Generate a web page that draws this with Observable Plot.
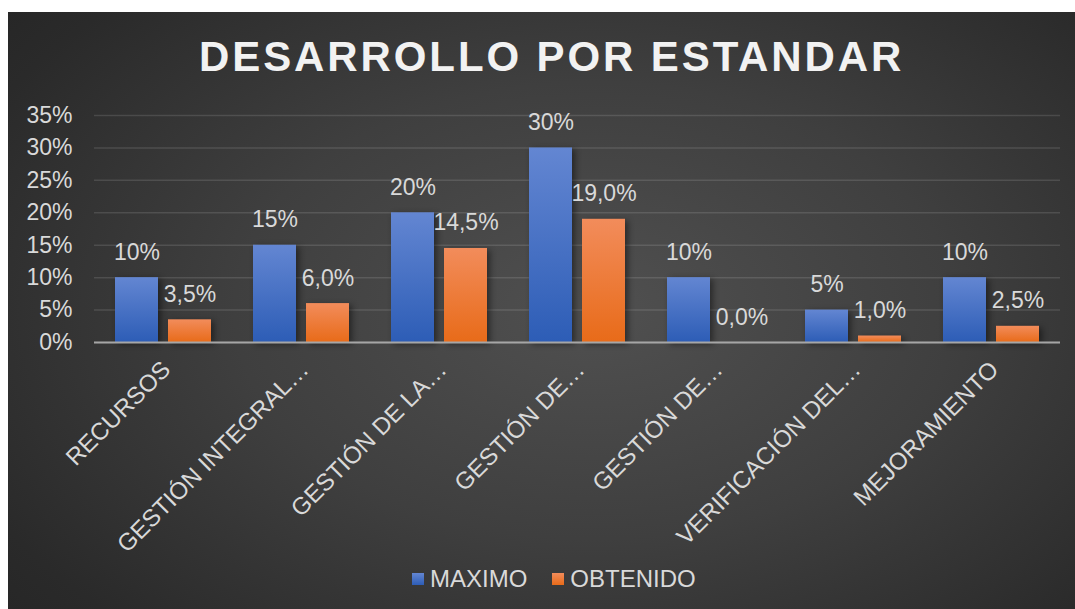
<!DOCTYPE html>
<html><head><meta charset="utf-8">
<script src="https://cdn.jsdelivr.net/npm/d3@7"></script>
<script src="https://cdn.jsdelivr.net/npm/@observablehq/plot@0.6"></script>
<style>
body{margin:0;background:#fff;}
#chart{position:absolute;left:8px;top:12px;width:1067px;height:597px;overflow:hidden;
  background:radial-gradient(ellipse 75% 85% at 55% 50%, #505050 0%, #3f3f3f 45%, #2a2a2a 85%, #252525 100%);
  font-family:"Liberation Sans",Arial,sans-serif;}
#title{position:absolute;left:191px;top:24px;font-weight:bold;font-size:42px;line-height:42px;letter-spacing:2.9px;color:#f2f2f2;white-space:nowrap}
#plot{position:absolute;left:0;top:88px}
#legend{position:absolute;left:404px;top:555px;display:flex;align-items:center;font-size:24px;line-height:24px;color:#d9d9d9;white-space:nowrap}
#legend .sw{width:12px;height:12px;display:inline-block;margin-right:6px}
#legend .item{display:flex;align-items:center;margin-right:25px}
</style></head>
<body>
<div id="chart">
  <div id="title">DESARROLLO POR ESTANDAR</div>
  <div id="plot"></div>
  <div id="legend"></div>
</div>
<script>
const categories = ["RECURSOS","GESTIÓN INTEGRAL…","GESTIÓN DE LA…","GESTIÓN DE…","GESTIÓN DE…","VERIFICACIÓN DEL…","MEJORAMIENTO"];
const series = ["MAXIMO","OBTENIDO"];
const maximo = [0.10,0.15,0.20,0.30,0.10,0.05,0.10];
const obtenido = [0.035,0.06,0.145,0.19,0.0,0.01,0.025];
const yTicks = [0,0.05,0.10,0.15,0.20,0.25,0.30,0.35];
const seriesColors = [["#6386d2","#2d5db6"],["#f28c5b","#e86b19"]];

const rows = [];
categories.forEach((c,i)=>{
  rows.push({i, series:series[0], value:maximo[i]});
  rows.push({i, series:series[1], value:obtenido[i]});
});
const pct = v => Math.round(v*100) + "%";
const fmtLabel = d => d.series === "MAXIMO" ? pct(d.value) : (d.value*100).toFixed(1).replace(".", ",") + "%";

const txt = "#d9d9d9";
const plot = Plot.plot({
  width:1067, height:460,
  marginTop:15, marginBottom:218, marginLeft:86, marginRight:15,
  style:{fontSize:"23px", fontFamily:"'Liberation Sans', Arial, sans-serif", color:txt, background:"transparent", overflow:"visible"},
  fx:{domain:d3.range(categories.length), padding:0, label:null, axis:null},
  x:{domain:series, paddingInner:0.189, paddingOuter:0.396, axis:null},
  y:{domain:[0,0.35], label:null, axis:null},
  color:{domain:series, range:["url(#gBlue)","url(#gOrange)"]},
  marks:[
    Plot.gridY(yTicks, {stroke:"#ffffff", strokeOpacity:0.12, strokeWidth:1.5}),
    Plot.axisY(yTicks, {tickSize:0, tickPadding:22, tickFormat:pct, fill:txt, label:null, fontSize:23}),
    Plot.barY(rows, {fx:"i", x:"series", y:"value", fill:"series"}),
    Plot.ruleY([0], {stroke:"#a6a6a6", strokeWidth:2}),
    Plot.text(rows, {fx:"i", x:"series", y:"value", text:fmtLabel, dy:-18, lineAnchor:"bottom", fill:txt, fontSize:23}),
    Plot.axisFx({anchor:"bottom", tickRotate:-45, tickSize:0, tickPadding:23, dx:3, tickFormat:i=>categories[i], fill:txt, label:null, fontSize:24})
  ]
});
const svg = d3.select(plot);
const defs = svg.insert("defs", ":first-child");
[["gBlue",seriesColors[0]],["gOrange",seriesColors[1]]].forEach(([id,c])=>{
  const g = defs.append("linearGradient").attr("id",id).attr("x1",0).attr("y1",0).attr("x2",0).attr("y2",1);
  g.append("stop").attr("offset","0%").attr("stop-color",c[0]);
  g.append("stop").attr("offset","100%").attr("stop-color",c[1]);
});
svg.selectAll("g[aria-label='bar'] rect").style("filter","drop-shadow(3px 2px 3px rgba(0,0,0,0.45))");
document.getElementById("plot").appendChild(plot);

const legend = d3.select("#legend");
series.forEach((s,k)=>{
  const it = legend.append("div").attr("class","item");
  it.append("span").attr("class","sw").style("background",`linear-gradient(${seriesColors[k][0]}, ${seriesColors[k][1]})`);
  it.append("span").text(s);
});
</script>
</body></html>
